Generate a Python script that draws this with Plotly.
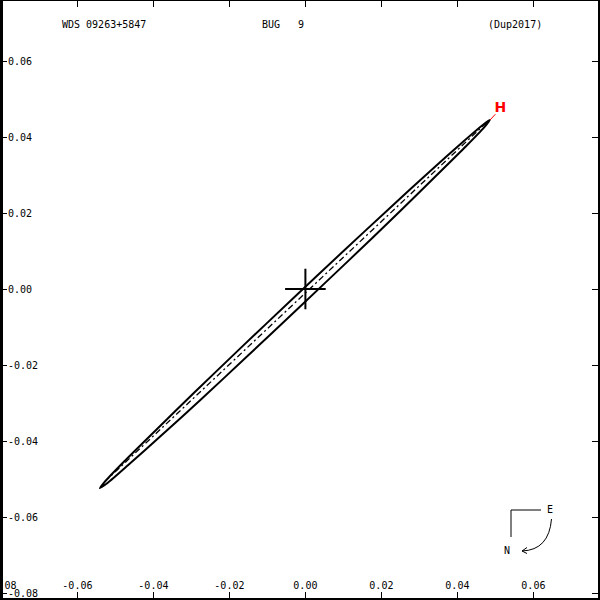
import plotly.graph_objects as go

# ---------------- data ----------------
ellipse_x = [0.0486, 0.0471, 0.0422, 0.0342, 0.0238, 0.0115, -0.0018, -0.0151, -0.0275,
             -0.0383, -0.0467, -0.0520, -0.0541, -0.0526, -0.0477, -0.0397, -0.0293,
             -0.0170, -0.0037, 0.0096, 0.0221, 0.0328, 0.0412, 0.0466, 0.0486]
ellipse_y = [0.0445, 0.0426, 0.0375, 0.0296, 0.0194, 0.0076, -0.0050, -0.0175, -0.0291,
             -0.0389, -0.0464, -0.0510, -0.0524, -0.0505, -0.0454, -0.0375, -0.0273,
             -0.0155, -0.0029, 0.0096, 0.0212, 0.0310, 0.0385, 0.0431, 0.0445]
nodes_x = [-0.0528, 0.0480]
nodes_y = [-0.0507, 0.0441]
primary_x = [0.0]
primary_y = [0.0]
hip_x = [0.0486, 0.0500]
hip_y = [0.0445, 0.0460]
hip_label_x = [0.0513]
hip_label_y = [0.0474]
hip_label = ["H"]
title_left = "WDS 09263+5847"
title_mid = "BUG   9"
title_right = "(Dup2017)"
tick_vals = [-0.08, -0.06, -0.04, -0.02, 0.0, 0.02, 0.04, 0.06]
tick_text = ["-0.08", "-0.06", "-0.04", "-0.02", "0.00", "0.02", "0.04", "0.06"]

# ---------------- layout constants ----------------
W = H = 600
ML, MR, MT, MB = 1, 2, 1, 2
X0PX, Y0PX, PPU = 305.4, 289.0, 3800.0
FONT = "DejaVu Sans Mono"

xr = [(ML - X0PX) / PPU, (W - MR - X0PX) / PPU]
yr = [(Y0PX - (H - MB)) / PPU, (Y0PX - MT) / PPU]


def px(xp):
    return (xp - ML) / (W - ML - MR)


def py(yp):
    return 1 - (yp - MT) / (H - MT - MB)


fig = go.Figure()
fig.add_trace(go.Scatter(x=ellipse_x, y=ellipse_y, mode="lines",
                         line=dict(color="black", width=2, shape="spline", smoothing=0.6),
                         hoverinfo="skip"))
fig.add_trace(go.Scatter(x=nodes_x, y=nodes_y, mode="lines",
                         line=dict(color="black", width=1.3, dash="6px,3px,2px,3px"),
                         hoverinfo="skip"))
fig.add_trace(go.Scatter(x=primary_x, y=primary_y, mode="markers",
                         marker=dict(symbol="cross-thin", size=29,
                                     line=dict(color="black", width=2)),
                         hoverinfo="skip"))
fig.add_trace(go.Scatter(x=hip_x, y=hip_y, mode="lines",
                         line=dict(color="red", width=1), hoverinfo="skip"))
fig.add_trace(go.Scatter(x=hip_label_x, y=hip_label_y, mode="text", text=hip_label,
                         textfont=dict(color="red", size=14, family="DejaVu Sans"),
                         texttemplate="<b>%{text}</b>", hoverinfo="skip"))

axis_common = dict(showgrid=False, zeroline=False, showline=True, linecolor="black",
                   linewidth=2, mirror="ticks", ticks="inside", ticklen=6, tickwidth=1,
                   tickcolor="black", tickvals=tick_vals, ticktext=tick_text,
                   ticklabelposition="inside", ticklabeloverflow="allow",
                   automargin=False,
                   tickfont=dict(family=FONT, size=10, color="black"), fixedrange=True)

fig.update_xaxes(range=xr, **axis_common)
fig.update_yaxes(range=yr, **axis_common)

shapes = [
    dict(type="line", xref="paper", yref="paper", x0=px(1.5), x1=px(1.5), y0=0, y1=1,
         line=dict(color="black", width=3), layer="above"),
    dict(type="line", xref="paper", yref="paper", x0=px(511), y0=py(510), x1=px(541), y1=py(510),
         line=dict(color="black", width=1)),
    dict(type="line", xref="paper", yref="paper", x0=px(511), y0=py(510), x1=px(511), y1=py(537),
         line=dict(color="black", width=1)),
    dict(type="path", xref="paper", yref="paper",
         path=f"M {px(551.5)},{py(519)} Q {px(549)},{py(550)} {px(522)},{py(551)}",
         line=dict(color="black", width=1)),
    dict(type="path", xref="paper", yref="paper",
         path=f"M {px(527)},{py(547.5)} L {px(522)},{py(551)} L {px(527)},{py(553.5)}",
         line=dict(color="black", width=1)),
]

tfont = dict(family=FONT, size=10, color="black")
annotations = [
    dict(text=title_left, x=px(60), y=py(24), xref="paper", yref="paper",
         xanchor="left", yanchor="middle", showarrow=False, font=tfont),
    dict(text=title_mid, x=px(260), y=py(24), xref="paper", yref="paper",
         xanchor="left", yanchor="middle", showarrow=False, font=tfont),
    dict(text=title_right, x=px(486), y=py(24), xref="paper", yref="paper",
         xanchor="left", yanchor="middle", showarrow=False, font=tfont),
    dict(text="E", x=px(549.5), y=py(509.5), xref="paper", yref="paper",
         xanchor="center", yanchor="middle", showarrow=False, font=tfont),
    dict(text="N", x=px(507), y=py(550.5), xref="paper", yref="paper",
         xanchor="center", yanchor="middle", showarrow=False, font=tfont),
]

fig.update_layout(width=W, height=H, margin=dict(l=ML, r=MR, t=MT, b=MB, pad=0, autoexpand=False),
                  plot_bgcolor="white", paper_bgcolor="white", showlegend=False,
                  shapes=shapes, annotations=annotations)

fig.write_html("out.html", config={"displayModeBar": False, "staticPlot": True},
               post_script="document.body.style.margin='0';document.body.style.overflow='hidden';")
